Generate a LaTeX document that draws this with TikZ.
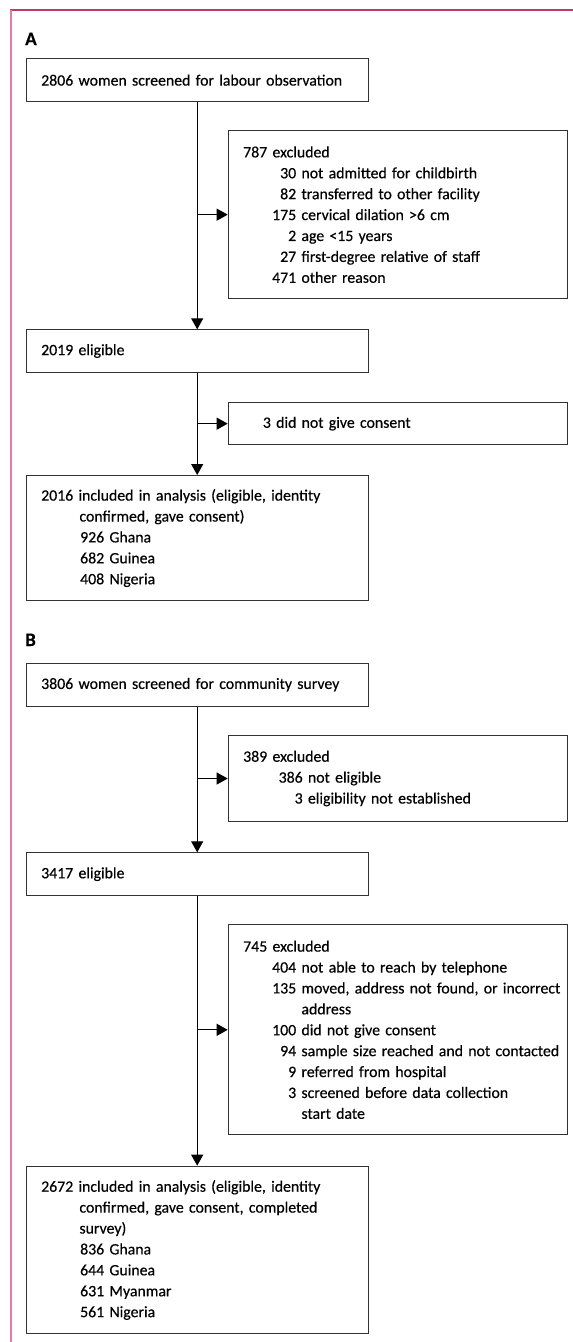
\documentclass[tikz,border=0pt]{standalone}
\usepackage{fontspec}
\setmainfont{Carlito}[WordSpace=0.8,FakeBold=0.4]
\usetikzlibrary{arrows.meta}
\definecolor{framered}{RGB}{190,60,100}
\definecolor{framepink}{RGB}{228,125,160}
\definecolor{boxgray}{RGB}{50,50,50}
\newcommand{\subn}[3][53pt]{\mbox{\makebox[#1][r]{#2}\ #3}}
\newcommand{\wrapl}[2][53pt]{\mbox{\hspace*{#1}\ #2}}
\tikzset{
  mainbox/.style={draw=boxgray, line width=1pt, anchor=north west, align=left,
    text width=312pt, inner xsep=15pt, inner ysep=0pt,
    font=\fontsize{15.8}{20.9}\selectfont},
  sidebox/.style={mainbox, text width=309pt},
  flow/.style={line width=1pt, -{Triangle[length=11pt,width=12pt]}},
  panel/.style={anchor=base west, inner sep=0pt, font=\fontsize{19}{22}\selectfont\bfseries}
}
\begin{document}
\begin{tikzpicture}[x=1pt,y=-1pt]
        \useasboundingbox (0,0) rectangle (573,1342);
        \draw[framered, line width=1.5pt] (10,10) -- (573,10);
        \draw[framepink, line width=1.2pt] (11,10) -- (11,1342);
        % A
        \node[panel] (lblA) at (25,45) {A};
        \node[mainbox, minimum height=42.7pt] (screenA) at (25.7,58.3) {2806 women screened for labour observation};
        \node[sidebox, minimum height=168.3pt] (exclA) at (227.7,130) {787 excluded\\
                \subn{30}{not admitted for childbirth}\\
                \subn{82}{transferred to other facility}\\
                \subn{175}{cervical dilation >6 cm}\\
                \subn{2}{age <15 years}\\
                \subn{27}{first-degree relative of staff}\\
                \subn{471}{other reason}};
        \node[mainbox, minimum height=42.4pt] (eligA) at (25.7,329.3) {2019 eligible};
        \node[sidebox, minimum height=42.3pt] (consA) at (227.7,402) {\hspace*{19.7pt}3 did not give consent};
        \node[mainbox, minimum height=125pt] (inclA) at (25.7,475) {\mbox{2016 included in analysis (eligible, identity}\\
                \wrapl[33pt]{confirmed, gave consent)}\\
                \subn[63pt]{926}{Ghana}\\
                \subn[63pt]{682}{Guinea}\\
                \subn[63pt]{408}{Nigeria}};
        \draw[flow] (screenA.south) -- (eligA.north);
        \draw[flow] (screenA.south |- exclA.west) -- (exclA.west);
        \draw[flow] (eligA.south) -- (inclA.north);
        \draw[flow] (eligA.south |- consA.west) -- (consA.west);
        % B
        \node[panel] (lblB) at (25,646) {B};
        \node[mainbox, minimum height=43pt] (screenB) at (25.7,662.7) {3806 women screened for community survey};
        \node[sidebox, minimum height=86.6pt] (exclB) at (227.7,734.7) {389 excluded\\
                \subn[59.5pt]{386}{not eligible}\\
                \subn[59.5pt]{3}{eligibility not established}};
        \node[mainbox, minimum height=42.7pt] (eligB) at (25.7,852.3) {3417 eligible};
        \node[sidebox, minimum height=210pt] (dropB) at (227.7,924.3) {745 excluded\\
                \subn{404}{not able to reach by telephone}\\
                \subn{135}{moved, address not found, or incorrect}\\
                \wrapl{address}\\
                \subn{100}{did not give consent}\\
                \subn{94}{sample size reached and not contacted}\\
                \subn{9}{referred from hospital}\\
                \subn{3}{screened before data collection}\\
                \wrapl{start date}};
        \node[mainbox, minimum height=167.6pt] (inclB) at (25.7,1165.7) {\mbox{2672 included in analysis (eligible, identity}\\
                \wrapl[33pt]{confirmed, gave consent, completed}\\
                \wrapl[33pt]{survey)}\\
                \subn[63pt]{836}{Ghana}\\
                \subn[63pt]{644}{Guinea}\\
                \subn[63pt]{631}{Myanmar}\\
                \subn[63pt]{561}{Nigeria}};
        \draw[flow] (screenB.south) -- (eligB.north);
        \draw[flow] (screenB.south |- exclB.west) -- (exclB.west);
        \draw[flow] (eligB.south) -- (inclB.north);
        \draw[flow] (eligB.south |- dropB.west) -- (dropB.west);
\end{tikzpicture}
\end{document}
